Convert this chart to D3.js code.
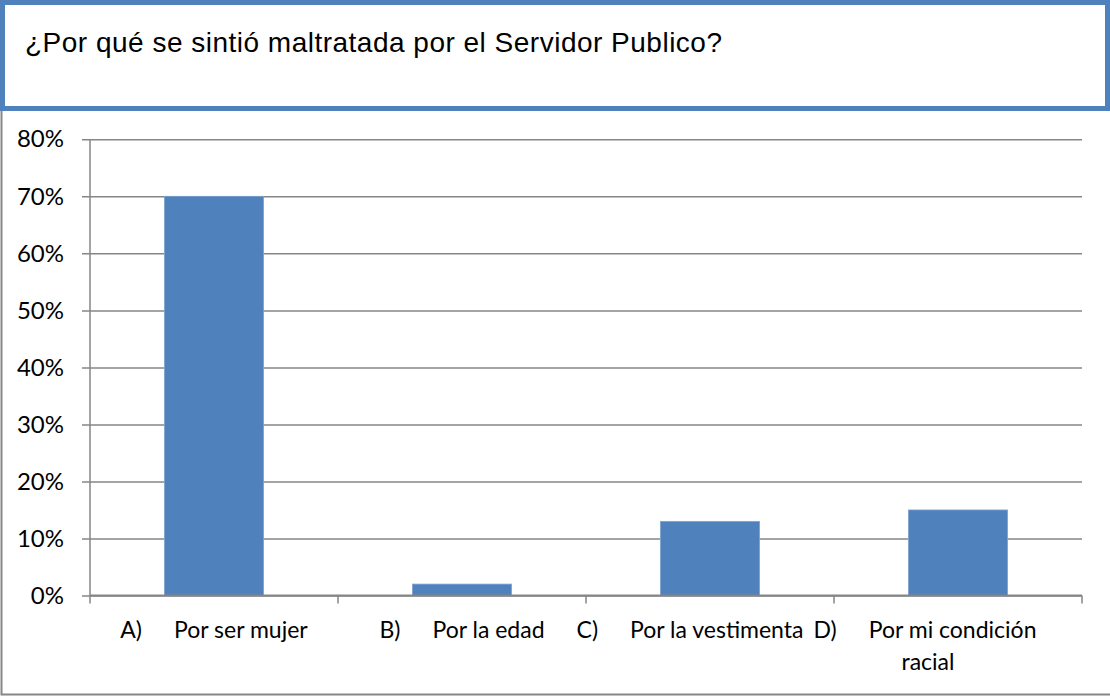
<!DOCTYPE html>
<html>
<head>
<meta charset="utf-8">
<script src="https://cdn.jsdelivr.net/npm/d3@7/dist/d3.min.js"></script>
<style>
  body { margin: 0; background: #fff; }
  svg { display: block; }
</style>
</head>
<body>
<div id="chart"></div>
<script>
// data
var title = "¿Por qué se sintió maltratada por el Servidor Publico?";
var letters = ["A)", "B)", "C)", "D)"];
var categories = ["Por ser mujer", "Por la edad", "Por la vestimenta", "Por mi condición racial"];
var values = [0.70, 0.02, 0.13, 0.15];
var yTicks = [0, 0.1, 0.2, 0.3, 0.4, 0.5, 0.6, 0.7, 0.8];

var W = 1110, H = 696;
var blue = "#4F81BD", grey = "#868686";
var labelFont = "Lato, 'Open Sans', sans-serif";
var labelSize = "23px";

var svg = d3.select("#chart").append("svg")
	.attr("width", W)
	.attr("height", H);

// outer chart frame (right edge runs off the picture)
svg.append("rect")
	.attr("x", 1.5).attr("y", 108)
	.attr("width", W + 20).attr("height", H - 109.5)
	.style("fill", "#fff")
	.style("stroke", grey)
	.style("stroke-width", 2);

// title box
svg.append("rect")
	.attr("x", 2.5).attr("y", 2.5)
	.attr("width", W - 5).attr("height", 106)
	.style("fill", "#fff")
	.style("stroke", blue)
	.style("stroke-width", 5);

svg.append("text")
	.attr("x", 25).attr("y", 52)
	.attr("textLength", 697)
	.attr("lengthAdjust", "spacing")
	.style("font-family", "'Liberation Sans', Arial, sans-serif")
	.style("font-size", "28px")
	.style("fill", "#000")
	.text(title);

// plot area
var plotLeft = 90, plotRight = 1082, plotTop = 139.3, plotBottom = 595.5;

var x = d3.scaleBand()
	.domain(categories)
	.range([plotLeft, plotRight])
	.paddingInner(0.6)
	.paddingOuter(0.3);

var y = d3.scaleLinear()
	.domain([0, 0.8])
	.range([plotBottom, plotTop]);

// gridlines + y ticks
var yAxis = d3.axisLeft(y)
	.tickValues(yTicks)
	.tickFormat(d3.format(".0%"))
	.tickSize(-(plotRight - plotLeft))
	.tickPadding(26);

var gy = svg.append("g")
	.attr("transform", "translate(" + plotLeft + ",0)")
	.call(yAxis);
gy.select(".domain").remove();
gy.selectAll(".tick line")
	.attr("x1", -8)
	.style("stroke", grey)
	.style("stroke-width", 1.5);
gy.selectAll(".tick text")
	.style("font-family", labelFont)
	.style("font-size", "24px")
	.style("fill", "#000");

// y axis line
svg.append("line")
	.attr("x1", plotLeft).attr("x2", plotLeft)
	.attr("y1", plotTop).attr("y2", plotBottom)
	.style("stroke", grey)
	.style("stroke-width", 1.5);

// bars
svg.selectAll(".bar")
	.data(values)
	.enter().append("rect")
	.attr("class", "bar")
	.attr("x", function(d, i) { return x(categories[i]); })
	.attr("y", function(d) { return y(d); })
	.attr("width", x.bandwidth())
	.attr("height", function(d) { return y(0) - y(d); })
	.style("fill", blue)
	.style("stroke", "#7fa3d3")
	.style("stroke-width", 0.8);

// x axis line and category boundary ticks
svg.append("line")
	.attr("x1", plotLeft).attr("x2", plotRight)
	.attr("y1", plotBottom).attr("y2", plotBottom)
	.style("stroke", grey)
	.style("stroke-width", 2);

var step = x.step();
var bounds = d3.range(categories.length + 1).map(function(i) { return plotLeft + i * step; });
svg.selectAll(".xtick")
	.data(bounds)
	.enter().append("line")
	.attr("x1", function(d) { return d; })
	.attr("x2", function(d) { return d; })
	.attr("y1", plotBottom)
	.attr("y2", plotBottom + 8)
	.style("stroke", grey)
	.style("stroke-width", 1.5);

// category labels: letter, tab-like gap, description (D wraps)
var shift = [0, 0, -20, -33];
var gap = 32;
categories.forEach(function(c, i) {
	var cx = x(c) + x.bandwidth() / 2 + shift[i];
	var g = svg.append("g");
	var lines = (i === 3) ? ["Por mi condición", "racial"] : [c];
	var t1 = g.append("text")
		.attr("y", 638)
		.style("font-family", labelFont)
		.style("font-size", labelSize)
		.text(letters[i]);
	var t2 = g.append("text")
		.attr("y", 638)
		.style("font-family", labelFont)
		.style("font-size", labelSize)
		.text(lines[0]);
	var w1 = t1.node().getComputedTextLength();
	var w2 = t2.node().getComputedTextLength();
	var total = w1 + gap + w2;
	var x0 = cx - total / 2;
	t1.attr("x", x0);
	t2.attr("x", x0 + w1 + gap);
	if (lines.length > 1) {
		g.append("text")
			.attr("x", cx + 3)
			.attr("y", 670)
			.attr("text-anchor", "middle")
			.style("font-family", labelFont)
			.style("font-size", labelSize)
			.text(lines[1]);
	}
});
</script>
</body>
</html>
